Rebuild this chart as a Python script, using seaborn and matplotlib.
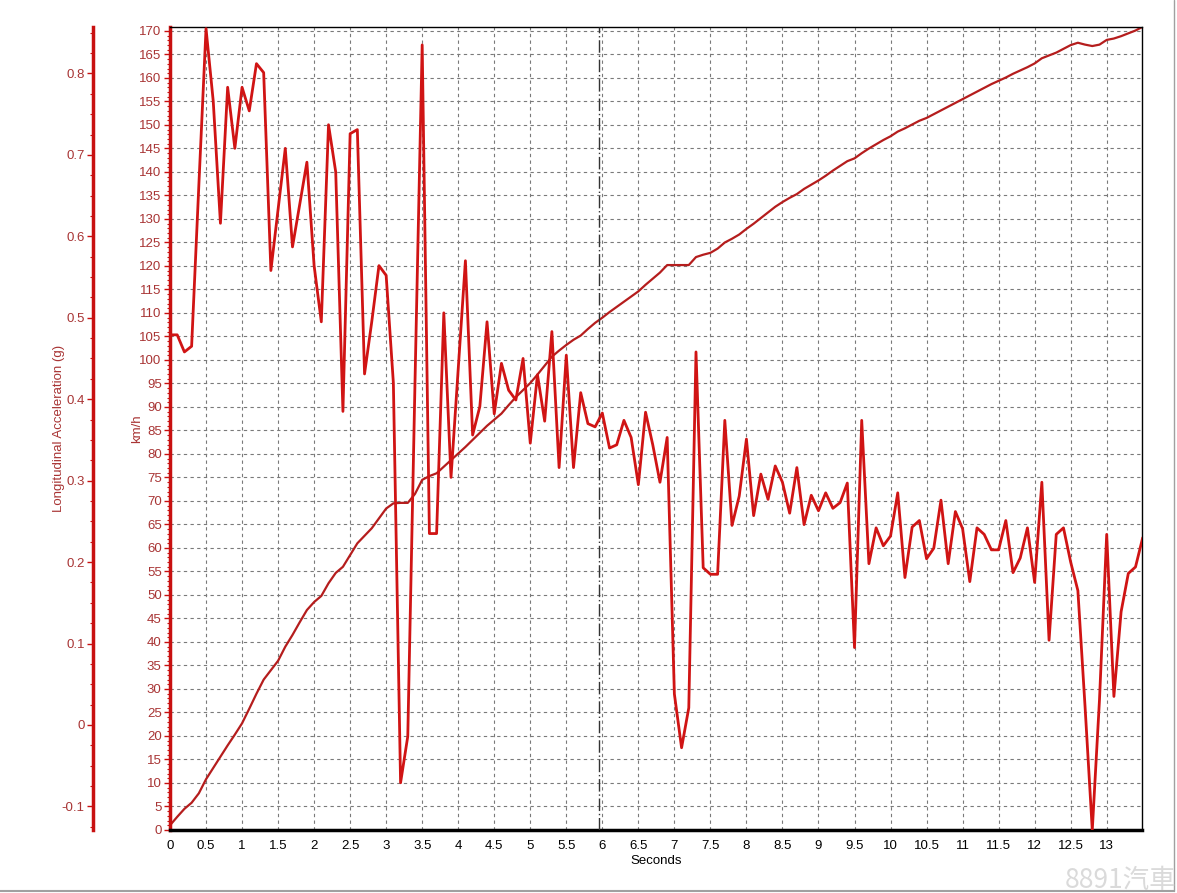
import numpy as np
import matplotlib
matplotlib.use("Agg")
import matplotlib.pyplot as plt
from matplotlib.lines import Line2D
from matplotlib.ticker import MultipleLocator, FormatStrFormatter
import seaborn as sns

# time axis (s), sampled every 0.1 s
time_s = np.round(np.arange(0, 13.51, 0.1), 1)

# speed (km/h)
speed_kmh = [
    1.0, 2.8, 4.5, 5.8, 7.8, 10.8, 13.2, 15.6, 18.0, 20.3,
    22.7, 25.8, 29.0, 32.0, 34.0, 36.0, 39.0, 41.5, 44.2, 46.8,
    48.5, 49.8, 52.5, 54.7, 56.0, 58.5, 61.0, 62.6, 64.2, 66.3,
    68.4, 69.5, 69.6, 69.6, 71.5, 74.5, 75.3, 75.9, 77.3, 78.7,
    80.1, 81.5, 83.0, 84.5, 86.0, 87.3, 88.6, 90.4, 92.1, 93.6,
    95.1, 96.9, 98.8, 100.7, 102.0, 103.2, 104.3, 105.2, 106.6, 107.9,
    109.0, 110.2, 111.3, 112.4, 113.5, 114.6, 116.0, 117.3, 118.6, 120.2,
    120.2, 120.2, 120.2, 121.9, 122.4, 122.8, 123.7, 125.0, 125.8, 126.7,
    127.9, 129.0, 130.2, 131.4, 132.6, 133.6, 134.5, 135.3, 136.4, 137.3,
    138.2, 139.2, 140.3, 141.3, 142.3, 142.9, 144.0, 145.0, 145.9, 146.8,
    147.6, 148.6, 149.3, 150.1, 150.9, 151.5, 152.3, 153.1, 153.9, 154.7,
    155.5, 156.3, 157.1, 157.9, 158.7, 159.4, 160.1, 160.9, 161.6, 162.3,
    163.1, 164.2, 164.8, 165.4, 166.2, 167.0, 167.5, 167.1, 166.8, 167.1,
    168.1, 168.4, 168.9, 169.5, 170.1, 170.9,
]

# longitudinal acceleration (g)
accel_g = [
    0.479, 0.479, 0.458, 0.465, 0.662, 0.855, 0.766, 0.616, 0.783, 0.708,
    0.783, 0.754, 0.812, 0.801, 0.558, 0.633, 0.708, 0.587, 0.639, 0.691,
    0.564, 0.495, 0.737, 0.679, 0.385, 0.726, 0.731, 0.431, 0.495, 0.564,
    0.552, 0.420, -0.071, -0.014, 0.420, 0.835, 0.235, 0.235, 0.506, 0.304,
    0.437, 0.570, 0.356, 0.391, 0.495, 0.382, 0.444, 0.411, 0.399, 0.450,
    0.346, 0.430, 0.373, 0.483, 0.316, 0.454, 0.316, 0.408, 0.370, 0.366,
    0.383, 0.340, 0.344, 0.374, 0.353, 0.295, 0.384, 0.344, 0.298, 0.353,
    0.038, -0.028, 0.021, 0.458, 0.193, 0.185, 0.185, 0.374, 0.245, 0.281,
    0.351, 0.257, 0.308, 0.277, 0.318, 0.298, 0.260, 0.316, 0.246, 0.282,
    0.263, 0.285, 0.266, 0.273, 0.297, 0.095, 0.374, 0.198, 0.242, 0.220,
    0.232, 0.285, 0.181, 0.243, 0.251, 0.204, 0.217, 0.276, 0.198, 0.262,
    0.241, 0.176, 0.242, 0.234, 0.215, 0.215, 0.251, 0.187, 0.205, 0.242,
    0.175, 0.298, 0.104, 0.234, 0.242, 0.200, 0.165, 0.022, -0.129, 0.031,
    0.234, 0.035, 0.139, 0.186, 0.194, 0.230,
]

x_ticks = [0, 0.5, 1, 1.5, 2, 2.5, 3, 3.5, 4, 4.5, 5, 5.5, 6, 6.5, 7, 7.5,
           8, 8.5, 9, 9.5, 10, 10.5, 11, 11.5, 12, 12.5, 13]
cursor_time = 5.96

sns.set_style("white")
plt.rcParams['font.family'] = ['Liberation Sans', 'DejaVu Sans']

red_axis = '#c81010'
red_text = '#a83434'

fig = plt.figure(figsize=(11.77, 8.93), dpi=100)
ax = fig.add_axes([170 / 1177, 63 / 893, 972 / 1177, 803 / 893])

sns.lineplot(x=time_s, y=speed_kmh, ax=ax, color='#b51d1d', linewidth=1.6)

ax.set_xlim(0, 13.49)
ax.set_ylim(0, 170.85)
ax.set_xticks(x_ticks)
ax.xaxis.set_major_formatter(FormatStrFormatter('%g'))
ax.xaxis.set_minor_locator(MultipleLocator(0.1))
ax.yaxis.set_major_locator(MultipleLocator(5))
ax.yaxis.set_minor_locator(MultipleLocator(1))
ax.grid(True, which='major', color='#7a7a7a', linestyle=(0, (3, 3)), linewidth=0.8)
ax.set_axisbelow(True)

ax.axvline(cursor_time, color='#333333', linestyle=(0, (9, 2, 1, 2)), linewidth=1.0, zorder=3)

for side in ['top', 'right']:
    ax.spines[side].set_color('black')
    ax.spines[side].set_linewidth(1.0)
ax.spines['bottom'].set_color('black')
ax.spines['bottom'].set_linewidth(2.5)
ax.spines['left'].set_color(red_axis)
ax.spines['left'].set_linewidth(2.5)

ax.tick_params(axis='x', which='major', direction='out', length=4, width=1,
               labelsize=9.5, colors='black', pad=3)
ax.tick_params(axis='x', which='minor', direction='out', length=2, width=0.8, colors='black')
ax.tick_params(axis='y', which='major', direction='out', length=4, width=1,
               labelsize=9.5, colors=red_axis, labelcolor=red_text, pad=2)
ax.tick_params(axis='y', which='minor', direction='out', length=2, width=0.8, colors=red_axis)

ax.set_xlabel('Seconds', fontsize=9.5, color='black')
ax.xaxis.set_label_coords(0.5, -0.0315)
ax.set_ylabel('km/h', fontsize=9.5, color=red_text)
ax.yaxis.set_label_coords(-0.028, 0.5)

# acceleration axis on an outer left spine
ax2 = ax.twinx()
sns.lineplot(x=time_s, y=accel_g, ax=ax2, color='#d01414', linewidth=2.0)
ax2.set_ylim(-0.129, 0.857)
ax2.set_xlim(0, 13.49)
ax2.yaxis.tick_left()
ax2.yaxis.set_label_position('left')
ax2.spines['left'].set_position(('axes', -77 / 972))
ax2.spines['left'].set_color(red_axis)
ax2.spines['left'].set_linewidth(2.5)
for side in ['right', 'top', 'bottom']:
    ax2.spines[side].set_visible(False)
ax2.yaxis.set_major_locator(MultipleLocator(0.1))
ax2.yaxis.set_minor_locator(MultipleLocator(0.025))
ax2.yaxis.set_major_formatter(FormatStrFormatter('%g'))
ax2.tick_params(axis='y', which='major', direction='out', length=4, width=1,
                labelsize=9.5, colors=red_axis, labelcolor=red_text, pad=2)
ax2.tick_params(axis='y', which='minor', direction='out', length=2, width=0.8, colors=red_axis)
ax2.set_ylabel('Longitudinal Acceleration (g)', fontsize=9.5, color=red_text)
ax2.yaxis.set_label_coords(-0.108, 0.5)

# window frame lines and watermark
fig.add_artist(Line2D([0, 1174 / 1177], [2 / 893, 2 / 893], color='#a0a0a0', linewidth=1.5))
fig.add_artist(Line2D([1174 / 1177, 1174 / 1177], [2 / 893, 1], color='#a0a0a0', linewidth=1.0))
fig.text(1176 / 1177, 13 / 893, '8891汽車', ha='right', va='center', fontsize=19,
         color='#dadada', family=['Noto Sans CJK TC', 'DejaVu Sans'])

fig.savefig('out.png', dpi=100)
